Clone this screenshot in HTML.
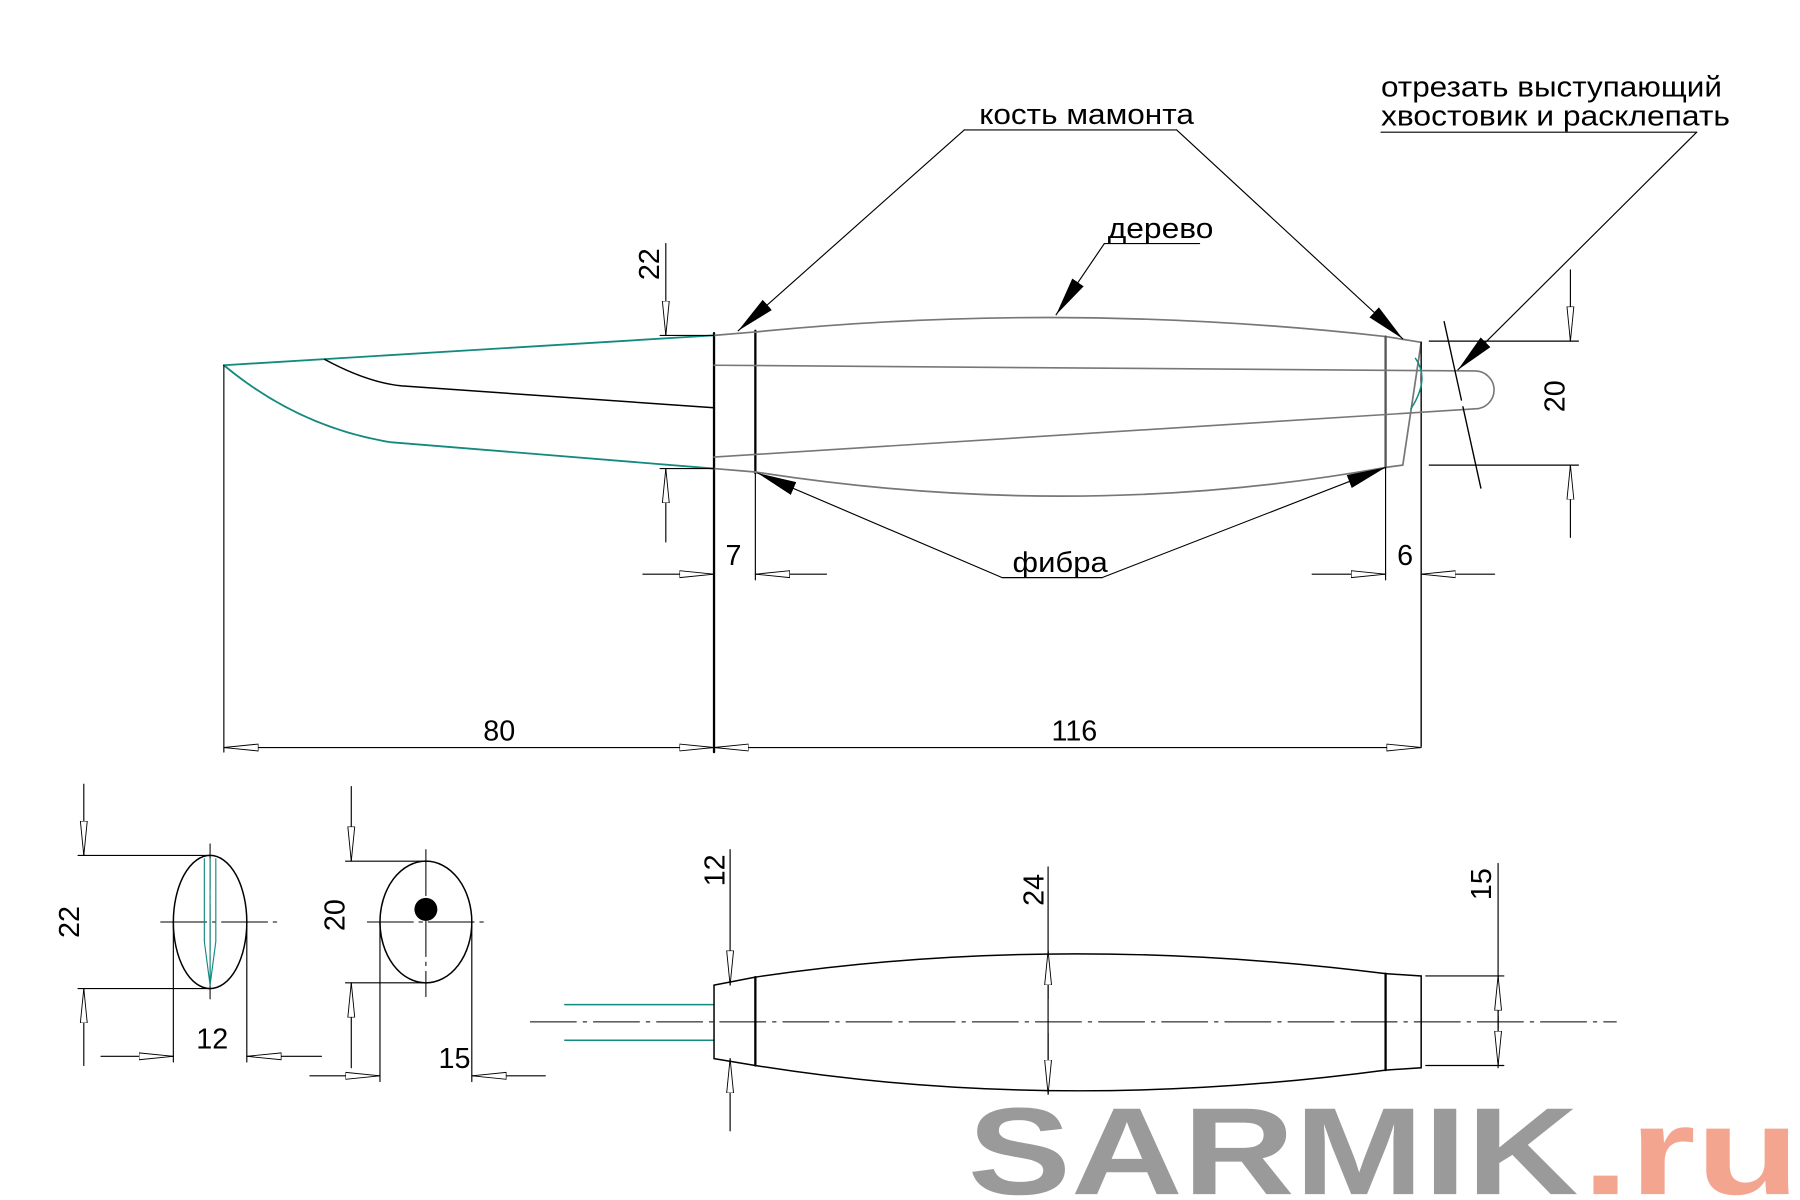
<!DOCTYPE html>
<html><head><meta charset="utf-8"><style>html,body{margin:0;padding:0;background:#fff}svg{display:block}</style></head>
<body>
<svg width="1800" height="1200" viewBox="0 0 1568 1045" xmlns="http://www.w3.org/2000/svg" font-family="Liberation Sans, sans-serif">
<defs>
<marker id="o" viewBox="0 -4 30 8" refX="30" refY="0" markerWidth="30" markerHeight="8" markerUnits="userSpaceOnUse" orient="auto-start-reverse"><path d="M30,0 L0,-3 L0,3 Z" fill="#fff" stroke="#000" stroke-width="0.8"/></marker>
<marker id="f" viewBox="0 -7 34 14" refX="34" refY="0" markerWidth="34" markerHeight="14" markerUnits="userSpaceOnUse" orient="auto"><path d="M34,0 L0,-6 L0,6 Z" fill="#000"/></marker>
</defs>
<g fill="none" stroke-linecap="round">
<path d="M195,318 L622,292" stroke="#138a80" stroke-width="1.6"/>
<path d="M195,318 Q260,372 340,385 L622,408" stroke="#138a80" stroke-width="1.6"/>
<path d="M283,313 Q320,333 350,336 L622,355" stroke="#000" stroke-width="1.3"/>
<path d="M622,290 L622,655" stroke="#000" stroke-width="2"/>
<path d="M658,288 L658,412" stroke="#000" stroke-width="2"/>
<path d="M658,412 L658,505" stroke="#000" stroke-width="1"/>
<path d="M622,292 L658,289 M622,408 L658,411" stroke="#777" stroke-width="1.5"/>
<path d="M658,289 Q930,262 1207,293 L1238,298 L1222,405 L1207,407 Q940,455 658,411" stroke="#777" stroke-width="1.5"/>
<path d="M1207,293 L1207,407" stroke="#555" stroke-width="2"/>
<path d="M1207,407 L1207,505" stroke="#000" stroke-width="1"/>
<path d="M1238,298 L1238,650" stroke="#000" stroke-width="1.2"/>
<path d="M622,318 L1285,323 A16.5,16.5 0 0 1 1285,356 L622,398" stroke="#777" stroke-width="1.4"/>
<path d="M1233,312 Q1246,330 1229,356" stroke="#138a80" stroke-width="1.3"/>
<path d="M1258,280 L1290,425" stroke="#000" stroke-width="1.2" stroke-dasharray="70,6,100"/>
<path d="M1245,297 L1375,297 M1245,405 L1375,405" stroke="#000" stroke-width="1"/>
<path d="M1368,235 L1368,297" stroke="#000" stroke-width="1" marker-end="url(#o)"/>
<path d="M1368,468 L1368,405" stroke="#000" stroke-width="1" marker-end="url(#o)"/>
<path d="M575,292 L622,292 M575,408 L622,408" stroke="#000" stroke-width="1"/>
<path d="M580,212 L580,292" stroke="#000" stroke-width="1" marker-end="url(#o)"/>
<path d="M580,472 L580,408" stroke="#000" stroke-width="1" marker-end="url(#o)"/>
<path d="M560,500 L622,500" stroke="#000" stroke-width="1" marker-end="url(#o)"/>
<path d="M720,500 L658,500" stroke="#000" stroke-width="1" marker-end="url(#o)"/>
<path d="M1143,500 L1207,500" stroke="#000" stroke-width="1" marker-end="url(#o)"/>
<path d="M1302,500 L1238,500" stroke="#000" stroke-width="1" marker-end="url(#o)"/>
<path d="M195,318 L195,655" stroke="#000" stroke-width="1"/>
<path d="M195,651 L622,651" stroke="#000" stroke-width="1" marker-start="url(#o)" marker-end="url(#o)"/>
<path d="M622,651 L1238,651" stroke="#000" stroke-width="1" marker-start="url(#o)" marker-end="url(#o)"/>
<path d="M840,113 L1025,113" stroke="#000" stroke-width="1"/>
<path d="M840,113 L643,288" stroke="#000" stroke-width="1" marker-end="url(#f)"/>
<path d="M1025,113 L1222,295" stroke="#000" stroke-width="1" marker-end="url(#f)"/>
<path d="M962,212 L1045,212" stroke="#000" stroke-width="1"/>
<path d="M962,212 L920,274" stroke="#000" stroke-width="1" marker-end="url(#f)"/>
<path d="M873,503 L960,503" stroke="#000" stroke-width="1"/>
<path d="M873,503 L660,412" stroke="#000" stroke-width="1" marker-end="url(#f)"/>
<path d="M960,503 L1207,407" stroke="#000" stroke-width="1" marker-end="url(#f)"/>
<path d="M1203,115 L1478,115" stroke="#000" stroke-width="1"/>
<path d="M1478,115 L1270,322" stroke="#000" stroke-width="1" marker-end="url(#f)"/>

<ellipse cx="183" cy="803" rx="32" ry="58" stroke="#000" stroke-width="1.3"/>
<path d="M140,803 L245,803 M183,735 L183,870" stroke="#000" stroke-width="0.9" stroke-dasharray="40,5,3,5"/>
<path d="M178,748 L178,820 L183,858 L188,820 L188,748 M183,748 L183,858" stroke="#138a80" stroke-width="1"/>
<path d="M68,745 L183,745 M68,861 L183,861" stroke="#000" stroke-width="1"/>
<path d="M73,683 L73,745" stroke="#000" stroke-width="1" marker-end="url(#o)"/>
<path d="M73,928 L73,861" stroke="#000" stroke-width="1" marker-end="url(#o)"/>
<path d="M151,803 L151,925 M215,803 L215,925" stroke="#000" stroke-width="1"/>
<path d="M88,920 L151,920" stroke="#000" stroke-width="1" marker-end="url(#o)"/>
<path d="M280,920 L215,920" stroke="#000" stroke-width="1" marker-end="url(#o)"/>
<ellipse cx="371" cy="803" rx="40" ry="53" stroke="#000" stroke-width="1.3"/>
<circle cx="371" cy="792" r="10" fill="#000"/>
<path d="M320,803 L422,803 M371,740 L371,868" stroke="#000" stroke-width="0.9" stroke-dasharray="40,5,3,5"/>
<path d="M301,750 L371,750 M301,856 L371,856" stroke="#000" stroke-width="1"/>
<path d="M306,685 L306,750" stroke="#000" stroke-width="1" marker-end="url(#o)"/>
<path d="M306,930 L306,856" stroke="#000" stroke-width="1" marker-end="url(#o)"/>
<path d="M331,803 L331,942 M411,803 L411,942" stroke="#000" stroke-width="1"/>
<path d="M270,937 L331,937" stroke="#000" stroke-width="1" marker-end="url(#o)"/>
<path d="M475,937 L411,937" stroke="#000" stroke-width="1" marker-end="url(#o)"/>
<path d="M462,890 L1408,890" stroke="#000" stroke-width="0.9" stroke-dasharray="40,6,3,6"/>
<path d="M492,875 L622,875 M492,906 L622,906" stroke="#138a80" stroke-width="1.3"/>
<path d="M622,858 L622,922" stroke="#000" stroke-width="1.3"/>
<path d="M622,858 L658,851 Q920,812 1207,848 L1238,850 L1238,930 L1207,932 Q920,970 658,928 L622,922" stroke="#000" stroke-width="1.3"/>
<path d="M658,851 L658,928 M1207,848 L1207,932" stroke="#000" stroke-width="2"/>
<path d="M636,740 L636,858" stroke="#000" stroke-width="1" marker-end="url(#o)"/>
<path d="M636,985 L636,922" stroke="#000" stroke-width="1" marker-end="url(#o)"/>
<path d="M913,755 L913,953" stroke="#000" stroke-width="1"/>
<path d="M913,870 L913,828" stroke="#000" stroke-width="1" marker-end="url(#o)"/>
<path d="M913,900 L913,953" stroke="#000" stroke-width="1" marker-end="url(#o)"/>
<path d="M1242,850 L1310,850 M1242,928 L1310,928" stroke="#000" stroke-width="1"/>
<path d="M1305,752 L1305,930" stroke="#000" stroke-width="1"/>
<path d="M1305,895 L1305,850" stroke="#000" stroke-width="1" marker-end="url(#o)"/>
<path d="M1305,885 L1305,928" stroke="#000" stroke-width="1" marker-end="url(#o)"/>
</g>
<g font-size="25" fill="#000">
<text x="853" y="108" textLength="187" lengthAdjust="spacingAndGlyphs">кость мамонта</text>
<text x="965" y="207" textLength="92" lengthAdjust="spacingAndGlyphs">дерево</text>
<text x="882" y="498" textLength="83" lengthAdjust="spacingAndGlyphs">фибра</text>
<text x="1203" y="84" textLength="297" lengthAdjust="spacingAndGlyphs">отрезать выступающий</text>
<text x="1203" y="109" textLength="304" lengthAdjust="spacingAndGlyphs">хвостовик и расклепать</text>
<text x="632" y="492">7</text>
<text x="1217" y="492">6</text>
<text x="421" y="645">80</text>
<text x="916" y="645">116</text>
<text x="171" y="913">12</text>
<text x="382" y="930">15</text>
<text transform="translate(574,230) rotate(-90)" text-anchor="middle">22</text>
<text transform="translate(1363,345) rotate(-90)" text-anchor="middle">20</text>
<text transform="translate(69,803) rotate(-90)" text-anchor="middle">22</text>
<text transform="translate(300,797) rotate(-90)" text-anchor="middle">20</text>
<text transform="translate(631,758) rotate(-90)" text-anchor="middle">12</text>
<text transform="translate(909,775) rotate(-90)" text-anchor="middle">24</text>
<text transform="translate(1299,770) rotate(-90)" text-anchor="middle">15</text>
</g>
<text x="843" y="1040" font-size="108" font-weight="bold" fill="#9a9a9a" textLength="532" lengthAdjust="spacingAndGlyphs">SARMIK</text>
<text x="1378" y="1040" font-size="108" font-weight="bold" fill="#f4a58f" textLength="190" lengthAdjust="spacingAndGlyphs">.ru</text>
</svg>
</body></html>
